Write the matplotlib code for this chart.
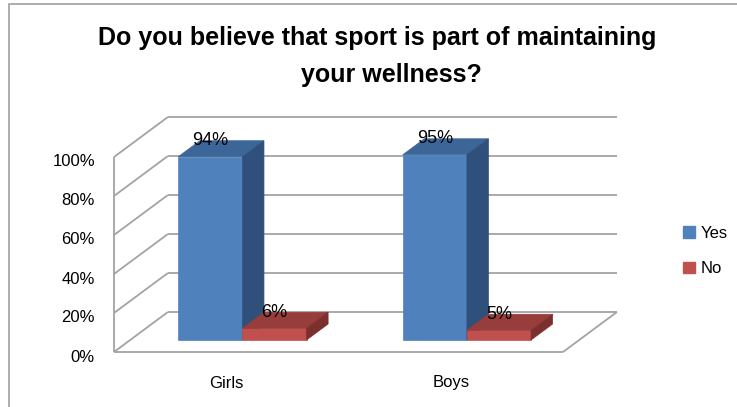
import matplotlib.pyplot as plt
from matplotlib.patches import Polygon, Rectangle, Patch
from matplotlib import transforms

plt.rcParams['font.family'] = ['Liberation Sans', 'DejaVu Sans']

categories = ['Girls', 'Boys']
series_names = ['Yes', 'No']
yes_pct = [94, 95]
no_pct = [6, 5]
y_ticks = [0, 20, 40, 60, 80, 100]

# front, top, side shades for each series
shades = {
    'Yes': ('#4f81bd', '#3d6698', '#30507c'),
    'No': ('#c0504d', '#973d3b', '#7c302e'),
}
grid_color = '#a3a3a3'

# oblique depth vector, in data units (category units, percent units)
DX, DY = 0.24, 20.5
GAP = 1.5          # gap width relative to bar width
Z0, Z1 = 0.3, 0.7  # bar extent along depth


def proj(x, v, z):
    return (x + z * DX, v + z * DY)


fig = plt.figure(figsize=(7.37, 4.07), dpi=100)
ax = fig.add_axes([114 / 737, 55 / 407, 449 / 737, 195 / 407])
ax.set_xlim(0, len(categories))
ax.set_ylim(0, 100)
ax.axis('off')


def line(p, q):
    ax.plot([p[0], q[0]], [p[1], q[1]], color=grid_color, lw=1.3,
            clip_on=False, solid_capstyle='butt', zorder=1)


n = len(categories)
# left wall and back wall gridlines
line(proj(0, 0, 0), proj(0, 100, 0))
for v in y_ticks:
    line(proj(0, v, 0), proj(0, v, 1))
    line(proj(0, v, 1), proj(n, v, 1))
# floor
line(proj(0, 0, 0), proj(n, 0, 0))
line(proj(n, 0, 0), proj(n, 0, 1))


def bar3d(x0, x1, h, cols):
    front, top, side = cols
    faces = [
        ([proj(x0, 0, Z0), proj(x1, 0, Z0), proj(x1, h, Z0), proj(x0, h, Z0)], front),
        ([proj(x0, h, Z0), proj(x1, h, Z0), proj(x1, h, Z1), proj(x0, h, Z1)], top),
        ([proj(x1, 0, Z0), proj(x1, 0, Z1), proj(x1, h, Z1), proj(x1, h, Z0)], side),
    ]
    for pts, c in faces:
        ax.add_patch(Polygon(pts, closed=True, facecolor=c, edgecolor=c,
                             lw=0.5, clip_on=False, zorder=2))


bw = 1 / (len(series_names) + GAP)
for i in range(n):
    for j, (name, vals) in enumerate(zip(series_names, [yes_pct, no_pct])):
        x0 = i + GAP * bw / 2 + j * bw
        x1 = x0 + bw
        v = vals[i]
        bar3d(x0, x1, v, shades[name])
        lx, _ = proj((x0 + x1) / 2, v, Z0)
        _, ly = proj(x0, v, Z1)
        ax.text(lx, ly, f'{v}%', ha='center', va='center',
                fontsize=13, zorder=3)

# value axis labels
tick_tr = transforms.offset_copy(ax.transData, fig=fig, x=-19, y=-5, units='dots')
for v in y_ticks:
    ax.text(0, v, f'{v}%', transform=tick_tr, ha='right', va='center', fontsize=12)

# category labels
cat_tr = transforms.offset_copy(ax.transData, fig=fig, x=0, y=-31, units='dots')
for i, c in enumerate(categories):
    ax.text(i + 0.5, 0, c, transform=cat_tr, ha='center', va='center', fontsize=12)

# title
fig.text(377.5 / 737, 1 - 38 / 407, 'Do you believe that sport is part of maintaining',
         ha='center', va='center', fontsize=18, fontweight='bold')
fig.text(391 / 737, 1 - 75 / 407, 'your wellness?',
         ha='center', va='center', fontsize=18, fontweight='bold')

handles = [Patch(facecolor=shades[s][0], edgecolor=shades[s][0]) for s in series_names]
fig.legend(handles, series_names, loc='center left',
           bbox_to_anchor=(668 / 737, 1 - 251 / 407), frameon=False,
           handlelength=0.7, handleheight=0.7, labelspacing=1.25,
           handletextpad=0.35, fontsize=12)

# chart area border
fig.add_artist(Rectangle((9 / 737, -0.1), 1.0, 1.1 - 4 / 407, transform=fig.transFigure,
                         fill=False, edgecolor='#a0a0a0', lw=1.2))

fig.savefig('out.png', dpi=100)
